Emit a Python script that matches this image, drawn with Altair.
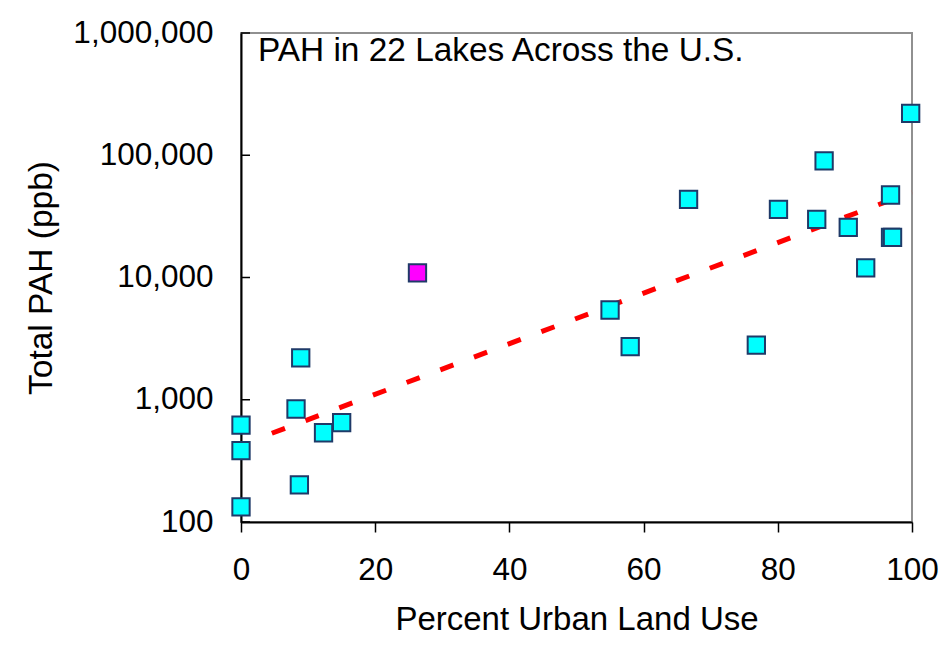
import altair as alt
import pandas as pd

# Data
urban_pct = [0, 0, 0, 8.2, 8.7, 8.9, 12.3, 15.0, 26.3, 55.0, 58.0, 66.7, 76.8,
             80.1, 85.8, 86.9, 90.5, 93.1, 96.8, 96.8, 97.1, 99.8]
total_pah = [621, 383, 133, 840, 201, 2200, 537, 649, 10900, 5420, 2720, 43600,
             2800, 36100, 29900, 89800, 25700, 12000, 47300, 21300, 21300, 220000]
highlight = ["no"] * 8 + ["yes"] + ["no"] * 13

trend_x = [4.6, 100]
trend_y = [532, 50000]

y_ticks = [100, 1000, 10000, 100000, 1000000]
x_ticks = [0, 20, 40, 60, 80, 100]

title_text = "PAH in 22 Lakes Across the U.S."

pts = pd.DataFrame({"x": urban_pct, "y": total_pah, "h": highlight})
trend = pd.DataFrame({"x": trend_x, "y": trend_y})
ticks = pd.DataFrame({"y": y_ticks})

FONT = "Liberation Sans"

xscale = alt.Scale(domain=[0, 100], nice=False, zero=False)
yscale = alt.Scale(type="log", domain=[100, 1000000], nice=False)

xaxis = alt.Axis(values=x_ticks, title="Percent Urban Land Use", grid=False,
                 tickSize=10, tickWidth=1.5, tickColor="black",
                 domainColor="black", domainWidth=2,
                 labelFont=FONT, labelFontSize=31.5, labelColor="black",
                 labelPadding=22, labelFlush=False,
                 titleFont=FONT, titleFontSize=33, titleFontWeight="normal",
                 titleColor="black", titleY=81.5, titleBaseline="top")
yaxis = alt.Axis(values=y_ticks, format=",d", title="Total PAH (ppb)", grid=False,
                 ticks=False, domainColor="black", domainWidth=2,
                 labelFont=FONT, labelFontSize=31.5, labelColor="black",
                 labelPadding=28, labelFlush=False,
                 titleFont=FONT, titleFontSize=33.5, titleFontWeight="normal",
                 titleColor="black", titleX=-200, titleBaseline="middle")

line = alt.Chart(trend).mark_line(
    color="#ff0000", strokeWidth=5, strokeDash=[14, 22], strokeCap="butt"
).encode(
    x=alt.X("x:Q", scale=xscale, axis=xaxis),
    y=alt.Y("y:Q", scale=yscale, axis=yaxis),
)

points = alt.Chart(pts).mark_square(
    size=300, stroke="#1f3a68", strokeWidth=2, opacity=1, filled=True
).encode(
    x=alt.X("x:Q", scale=xscale),
    y=alt.Y("y:Q", scale=yscale),
    fill=alt.Fill("h:N", scale=alt.Scale(domain=["no", "yes"],
                                         range=["#00ffff", "#ff00ff"]),
                  legend=None),
)

ytick_marks = alt.Chart(ticks).mark_rule(color="black", strokeWidth=1.5).encode(
    x=alt.value(0), x2=alt.value(9),
    y=alt.Y("y:Q", scale=yscale),
)

title = alt.Chart(pd.DataFrame({"t": [title_text]})).mark_text(
    align="left", baseline="middle", font=FONT, fontSize=33.4, color="black"
).encode(
    x=alt.value(17), y=alt.value(18), text="t:N"
)

chart = alt.layer(line, ytick_marks, points, title).properties(
    width=671, height=489,
    padding={"left": 233, "top": 25, "right": 27, "bottom": 115},
    autosize=alt.AutoSizeParams(type="none"),
    background="white",
).configure_view(
    stroke="#909090", strokeWidth=2
)

chart.save("out.html", embed_options={"renderer": "svg", "actions": False})
